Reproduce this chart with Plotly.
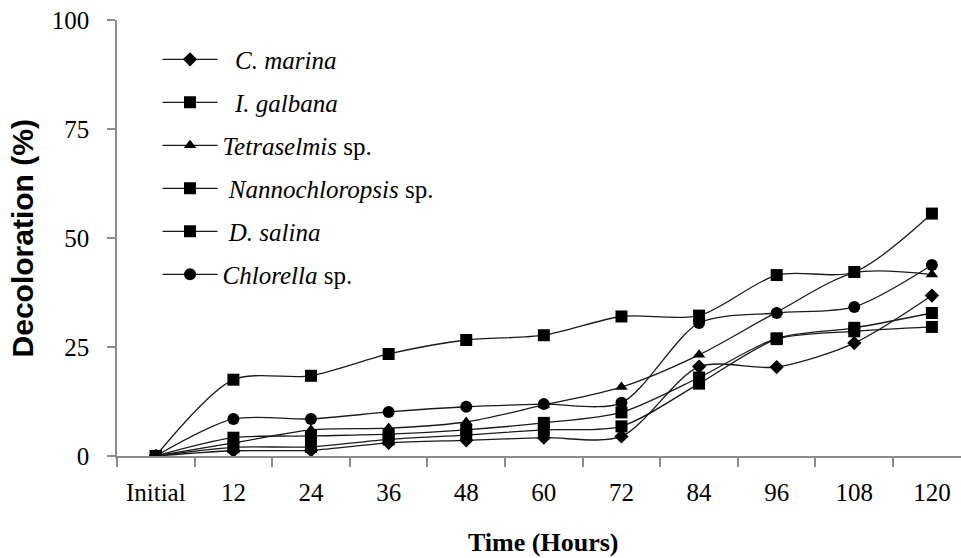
import plotly.graph_objects as go

# Sampling times (hours) and decoloration (%) for each microalga
times = ["Initial", "12", "24", "36", "48", "60", "72", "84", "96", "108", "120"]

c_marina = [0, 1.2, 1.3, 3.0, 3.6, 4.2, 4.5, 20.5, 20.4, 25.9, 36.8]
i_galbana = [0, 17.5, 18.4, 23.4, 26.6, 27.7, 32.0, 32.2, 41.5, 42.2, 55.6]
tetraselmis = [0, 3.0, 6.0, 6.4, 7.8, 11.7, 15.8, 23.2, 33.0, 42.0, 41.6]
nannochloropsis = [0, 4.2, 4.6, 5.0, 6.0, 7.6, 10.0, 18.0, 27.0, 29.4, 32.8]
d_salina = [0, 2.0, 2.1, 3.8, 4.8, 6.0, 6.8, 16.6, 26.8, 28.6, 29.6]
chlorella = [0, 8.5, 8.5, 10.1, 11.3, 11.9, 12.2, 30.5, 32.8, 34.2, 43.8]

series = [
    ("&nbsp;&nbsp;<i>C. marina</i>", c_marina, "diamond", 11),
    ("&nbsp;&nbsp;<i>I. galbana</i>", i_galbana, "square", 12),
    ("<i>Tetraselmis</i> sp.", tetraselmis, "triangle-up", 11),
    ("&nbsp;<i>Nannochloropsis</i> sp.", nannochloropsis, "square", 12),
    ("&nbsp;<i>D. salina</i>", d_salina, "square", 12),
    ("<i>Chlorella</i> sp.", chlorella, "circle", 12),
]

serif = "Liberation Serif, Times New Roman, serif"

fig = go.Figure()
for i, (name, vals, sym, sz) in enumerate(series):
    fig.add_trace(go.Scatter(
        x=times, y=vals, name=name, mode="lines+markers",
        legendgroup=f"g{i}",
        line=dict(color="#1a1a1a", width=1.3, shape="spline", smoothing=0.8),
        marker=dict(symbol=sym, size=sz, color="black"),
    ))

fig.update_layout(
    width=961, height=558,
    margin=dict(l=117, r=0, t=20, b=102),
    paper_bgcolor="white", plot_bgcolor="white",
    font=dict(family=serif, size=25, color="black"),
    showlegend=True,
    legend=dict(
        x=0.048, y=0.962, xanchor="left", yanchor="top",
        bgcolor="rgba(0,0,0,0)", tracegroupgap=7.5, itemwidth=55,
        font=dict(family=serif, size=25, color="black"),
    ),
)

fig.update_xaxes(
    type="category", range=[-0.5, 10.375],
    showline=True, linecolor="#8c8c8c", linewidth=1.5,
    ticks="outside", tickson="boundaries", ticklen=9, tickcolor="#8c8c8c",
    tickwidth=1.5, showgrid=False, zeroline=False,
    ticklabelstandoff=13,
)
fig.update_yaxes(
    range=[0, 100], tickvals=[0, 25, 50, 75, 100],
    showline=True, linecolor="#8c8c8c", linewidth=1.5,
    ticks="outside", ticklen=8, tickcolor="#8c8c8c", tickwidth=1.5,
    showgrid=False, zeroline=False, ticklabelstandoff=13,
)

fig.add_annotation(
    text="Time (Hours)", xref="paper", yref="paper",
    x=0.505, y=-0.236, xanchor="center", yanchor="bottom", showarrow=False,
    font=dict(family=serif, size=26, color="black", weight="bold"),
)
fig.add_annotation(
    text="Decoloration (%)", xref="paper", yref="paper",
    x=-0.112, y=0.5, xanchor="center", yanchor="middle", showarrow=False,
    textangle=-90,
    font=dict(family="Liberation Sans, Arial, sans-serif", size=30,
              color="black", weight="bold"),
)

fig.write_html("out.html")
